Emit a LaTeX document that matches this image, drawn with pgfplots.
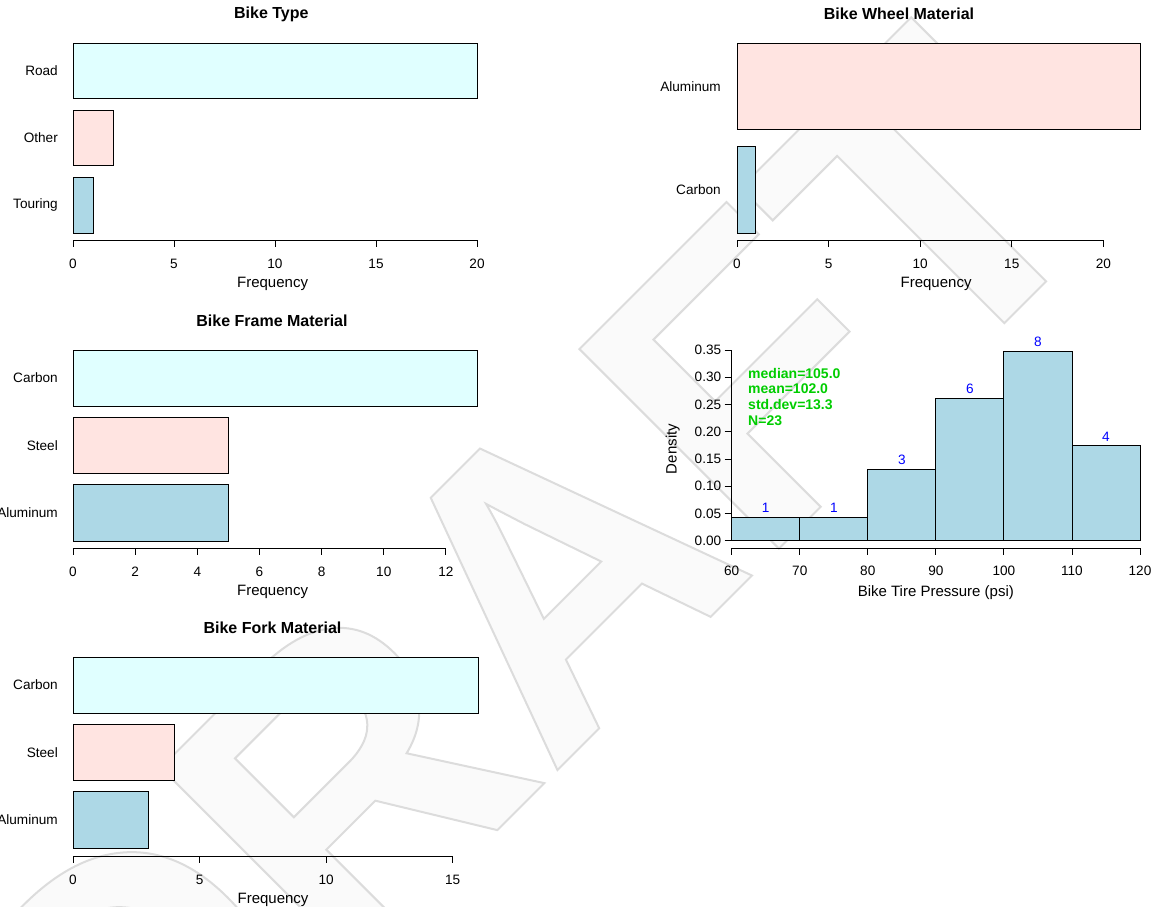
\documentclass[border=0pt]{standalone}
\usepackage{pgfplots}
\pgfplotsset{compat=1.18}
\usepackage{fontspec}
\setmainfont{Liberation Sans}
\definecolor{lcyan}{HTML}{E0FFFF}
\definecolor{mrose}{HTML}{FFE4E1}
\definecolor{lblue}{HTML}{ADD8E6}
\definecolor{grn}{HTML}{00CD00}
\definecolor{wmgray}{HTML}{DCDCDC}

\pgfplotsset{
  base/.style={
    scale only axis, anchor=south west, clip=false,
    axis line style={draw=none},
    xtick pos=lower, ytick pos=left,
    tick align=outside,
    major tick length=7pt,
    xtick style={black, line width=0.9pt},
    tick label style={font=\fontsize{13.6}{15}\selectfont},
    xticklabel style={yshift=-8.5pt},
    /pgf/number format/assume math mode=true,
    xlabel style={anchor=center, font=\fontsize{15}{18}\selectfont},
    ylabel style={anchor=center, font=\fontsize{15}{18}\selectfont},
  },
  rbar/.style={
    base,
    ytick style={draw=none},
    yticklabel style={anchor=east, inner sep=0pt, xshift=-8pt},
    xlabel=Frequency,
    xlabel style={at={(axis description cs:0.494,0)}, yshift=-44pt},
    title style={anchor=center, yshift=23pt, font=\bfseries\fontsize{16}{19}\selectfont},
    xbar, bar width=1, bar shift=0pt,
    every axis plot/.append style={draw=black, line width=0.9pt},
  },
}

\begin{document}
\begin{tikzpicture}[x=1pt,y=1pt]
\useasboundingbox (0,0) rectangle (1151,907);

% watermark
\node[rotate=45, inner sep=0pt, text=wmgray, font=\bfseries\fontsize{410}{410}\selectfont] at (523,302)
  {\special{pdf:literal direct 2 Tr 0.98 g 2 w}DRAFT\special{pdf:literal direct 0 Tr 1 w}};

% ---------- Bike Type ----------
\begin{axis}[rbar, at={(73pt,667pt)}, width=404pt, height=197pt,
  xmin=0, xmax=20, ymin=0.075, ymax=3.6,
  xtick={0,5,10,15,20},
  ytick={0.7,1.9,3.1}, yticklabels={Touring,Other,Road},
  title=Bike Type, title style={at={(axis description cs:0.491,1)}}]
\addplot[fill=lblue] coordinates {(1,0.7)};
\addplot[fill=mrose] coordinates {(2,1.9)};
\addplot[fill=lcyan] coordinates {(20,3.1)};
\draw[line width=0.9pt] (axis cs:0,0.075) -- (axis cs:20,0.075);
\end{axis}

% ---------- Bike Frame Material ----------
\begin{axis}[rbar, at={(73pt,359pt)}, width=404pt, height=198pt,
  xmin=0, xmax=13, ymin=0.075, ymax=3.6,
  xtick={0,2,4,6,8,10,12},
  ytick={0.7,1.9,3.1}, yticklabels={Aluminum,Steel,Carbon},
  title=Bike Frame Material, title style={at={(axis description cs:0.4926,1)}}]
\addplot[fill=lblue] coordinates {(5,0.7)};
\addplot[fill=mrose] coordinates {(5,1.9)};
\addplot[fill=lcyan] coordinates {(13,3.1)};
\draw[line width=0.9pt] (axis cs:0,0.075) -- (axis cs:12,0.075);
\end{axis}

% ---------- Bike Fork Material ----------
\begin{axis}[rbar, at={(73pt,51pt)}, width=405pt, height=199pt,
  xmin=0, xmax=16, ymin=0.06, ymax=3.6,
  xtick={0,5,10,15},
  ytick={0.7,1.9,3.1}, yticklabels={Aluminum,Steel,Carbon},
  title=Bike Fork Material, title style={at={(axis description cs:0.4926,1)}}]
\addplot[fill=lblue] coordinates {(3,0.7)};
\addplot[fill=mrose] coordinates {(4,1.9)};
\addplot[fill=lcyan] coordinates {(16,3.1)};
\draw[line width=0.9pt] (axis cs:0,0.06) -- (axis cs:15,0.06);
\end{axis}

% ---------- Bike Wheel Material ----------
\begin{axis}[rbar, at={(737pt,667pt)}, width=403pt, height=197pt,
  xmin=0, xmax=22, ymin=0.119, ymax=2.4,
  xtick={0,5,10,15,20},
  ytick={0.7,1.9}, yticklabels={Carbon,Aluminum},
  yticklabel style={xshift=-1pt},
  title=Bike Wheel Material, title style={at={(axis description cs:0.402,1)}}]
\addplot[fill=lblue] coordinates {(1,0.7)};
\addplot[fill=mrose] coordinates {(22,1.9)};
\draw[line width=0.9pt] (axis cs:0,0.119) -- (axis cs:20,0.119);
\end{axis}

% ---------- Histogram ----------
\begin{axis}[base, at={(731.7pt,359pt)}, width=408.3pt, height=198pt,
  xmin=60, xmax=120, ymin=-0.0134, ymax=0.35,
  ytick style={black, line width=0.9pt},
  xtick={60,70,80,90,100,110,120},
  ytick={0,0.05,0.1,0.15,0.2,0.25,0.3,0.35},
  yticklabel style={/pgf/number format/.cd, fixed, fixed zerofill, precision=2},
  xticklabel style={yshift=1.5pt},
  xlabel={Bike Tire Pressure (psi)},
  xlabel style={at={(axis description cs:0.5,0)}, yshift=-45pt},
  ylabel={Density},
  ylabel style={at={(axis description cs:-0.1445,0.5)}, rotate=0}]
\addplot[ybar interval, fill=lblue, draw=black, line width=0.9pt] coordinates
  {(60,0.043478) (70,0.043478) (80,0.130435) (90,0.260870) (100,0.347826) (110,0.173913) (120,0.173913)};
\addplot[draw=none, forget plot, nodes near coords, point meta=explicit symbolic,
  nodes near coords style={text=blue, font=\fontsize{13.6}{15}\selectfont, anchor=south, inner sep=0pt, yshift=4.5pt}]
  coordinates {(65,0.043478)[1] (75,0.043478)[1] (85,0.130435)[3] (95,0.260870)[6] (105,0.347826)[8] (115,0.173913)[4]};
\draw[line width=0.9pt] (axis cs:60,0) -- (axis cs:60,0.35);
\draw[line width=0.9pt] (axis cs:60,-0.0134) -- (axis cs:120,-0.0134);
\node[anchor=north west, align=left, text=grn, font=\bfseries\fontsize{14}{15.7}\selectfont, inner sep=0pt]
  at (rel axis cs:0.04,0.91) {median=105.0\\mean=102.0\\std.dev=13.3\\N=23};
\end{axis}
\end{tikzpicture}
\end{document}
